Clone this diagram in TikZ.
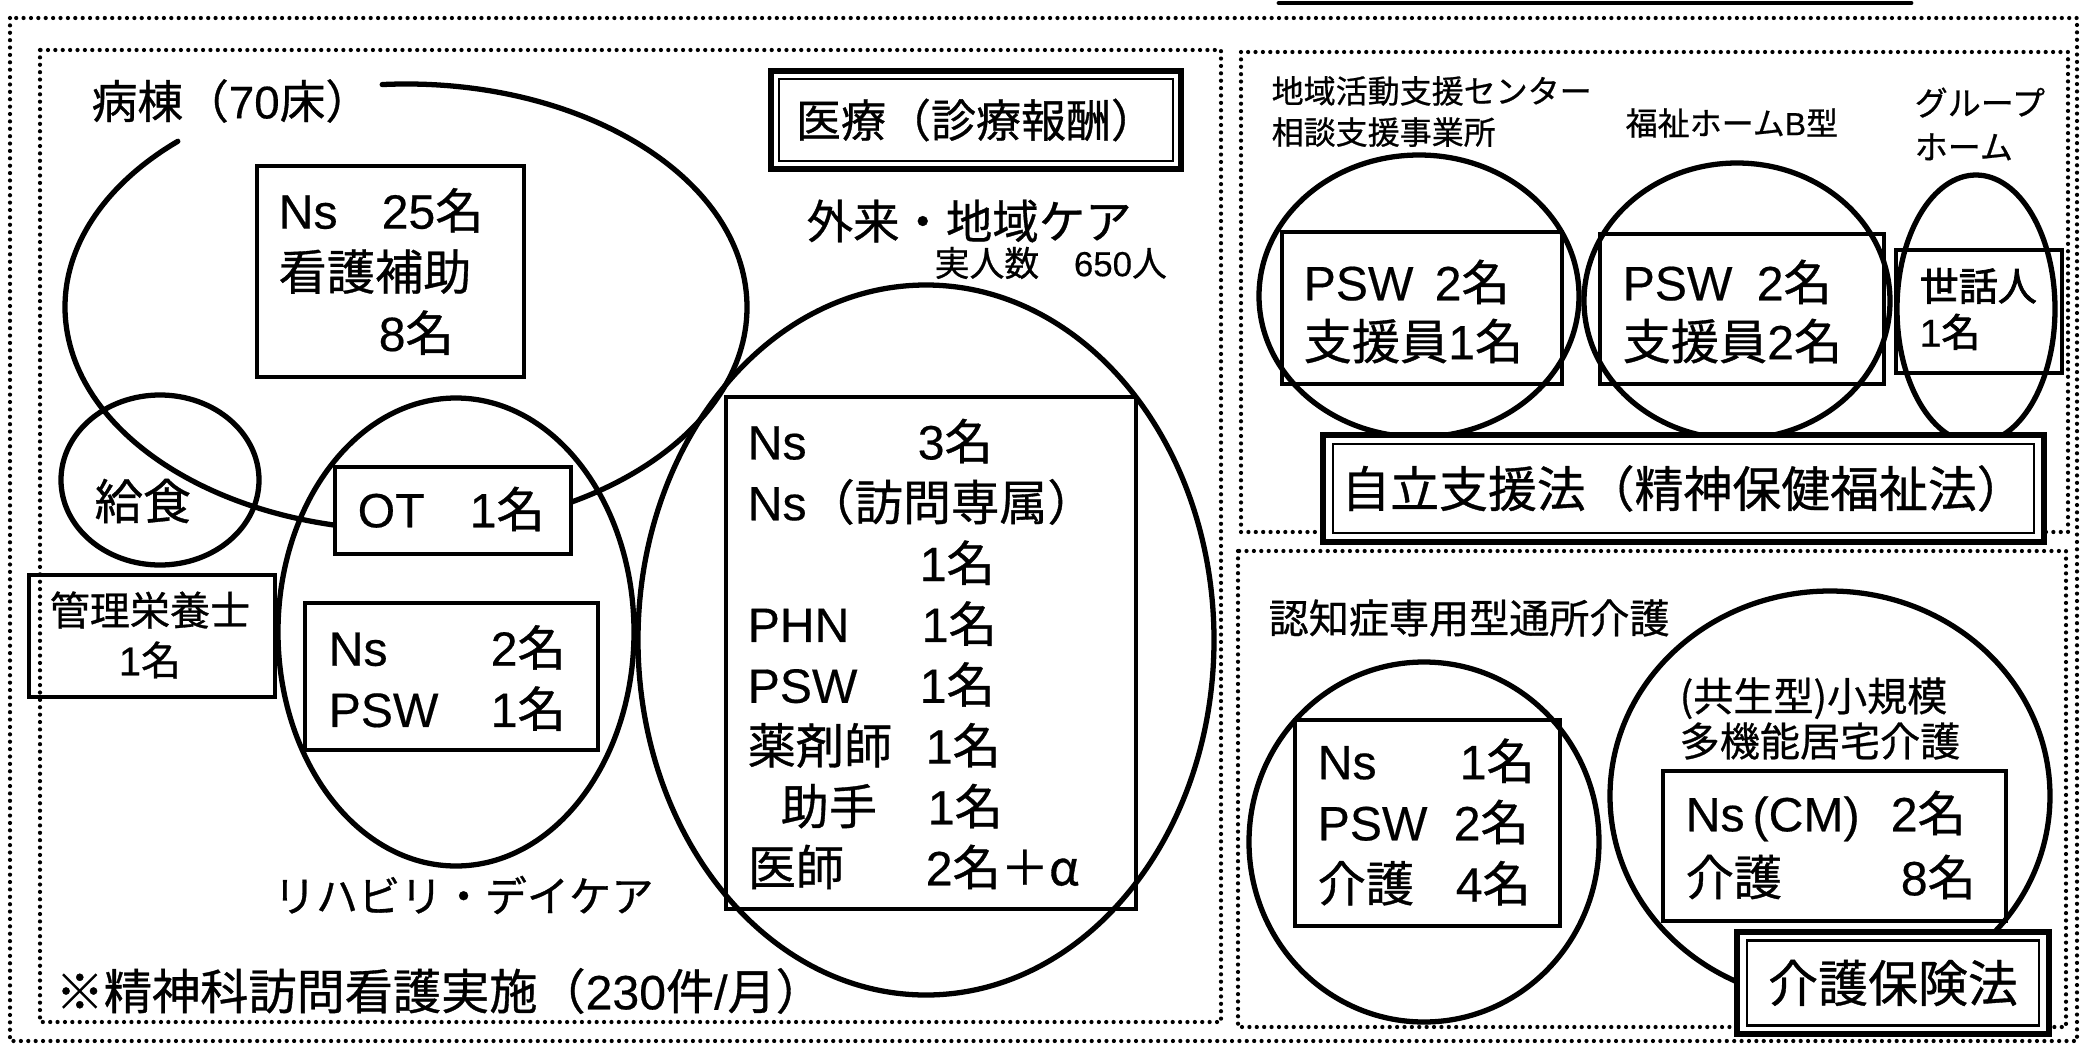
\documentclass[tikz,border=0pt]{standalone}
\usepackage{fontspec}
\setmainfont{Noto Sans CJK JP}[FakeBold=0.7]
\newfontfamily\lat{Liberation Sans}[FakeBold=0.4]
\newfontfamily\jpheavy{Noto Sans CJK JP}[FakeBold=1.8]
\usepackage{tikz}
\newcommand\la[1]{{\lat #1}}
\newcommand\lcol[2]{\makebox[#1][l]{#2}}
\newcommand\fs[2]{\fontsize{#1}{#2}\selectfont}

\begin{document}
\begin{tikzpicture}[x=0.01cm,y=-0.01cm,line cap=round,
  panel/.style={line width=1.2pt,dash pattern=on 0pt off 2.1pt},
  ring/.style={line width=1.5pt},
  staff/.style={line width=1pt},
  txt/.style={inner sep=0pt,anchor=west,align=left},
  stafffont/.style={font=\fs{13.7}{17.4}},
  lawframe/.style={draw,line width=1.8pt,fill=white,inner sep=0pt},
  lawbox/.style={draw,line width=0.6pt,inner sep=0pt}]
\useasboundingbox (0,0) rectangle (2084,1048);
\draw[line width=1.4pt] (1279,3) -- (1911,3);
\draw[panel] (10,18) rectangle (2077,1041);
\draw[panel] (40,50) rectangle (1221,1022);
\draw[panel] (1241,52) rectangle (2068,532);
\draw[panel] (1238,551) rectangle (2066,1027);

% left panel
\draw[ring] ([shift={(-94:341 and 223)}]406,307) arc[start angle=-94,end angle=228,x radius=341,y radius=223];
\draw[ring] (160,480) ellipse[x radius=99,y radius=85];
\draw[ring] (456,632) ellipse[x radius=178,y radius=234];
\draw[ring] (926,640) ellipse[x radius=288,y radius=355];
\draw[staff] (257,166) rectangle (524,377);
\draw[staff] (29,575) rectangle (275,697);
\draw[staff,fill=white] (335,467) rectangle (571,554);
\draw[staff] (305,603) rectangle (598,750);
\draw[staff] (726,397) rectangle (1136,909);
\node[lawframe,minimum width=4.10cm,minimum height=0.98cm] (iryoF) at (976,120) {};
\node[lawbox,minimum width=3.94cm,minimum height=0.82cm,font=\fs{12.8}{14}] (iryo) at (iryoF.center) {医療（診療報酬）};
\node[txt,font=\fs{13}{15}] (wardlbl) at (91,101) {病棟（\la{70}床）};
\node[txt,stafffont] (wardstaff) at (278,271.5) {\lcol{1.03cm}{\la{Ns}}\la{25}名\\看護補助\\\lcol{1.0cm}{}\la{8}名};
\node[txt,stafffont] (meal) at (94,501) {給食};
\node[inner sep=0pt,align=center,font=\fs{11.4}{14.2}] (diet) at (150,635) {管理栄養士\\\la{1}名};
\node[txt,stafffont] (ot) at (357,509) {\lcol{1.12cm}{\la{OT}}\la{1}名};
\node[txt,stafffont] (rehabstaff) at (328,678) {\lcol{1.62cm}{\la{Ns}}\la{2}名\\\lcol{1.62cm}{\la{PSW}}\la{1}名};
\node[txt,font=\fs{12}{14}] (rehab) at (273,895) {リハビリ・デイケア};
\node[txt,stafffont] (visit) at (55,991) {※精神科訪問看護実施（\la{230}件\la{/}月）};
\node[txt,font=\fs{13.2}{15}] (opd) at (806,221) {外来・地域ケア};
\node[txt,font=\fs{9.9}{12}] (opdnum) at (934,263) {実人数\quad\la{650}人};
\node[txt,font=\fs{13.7}{17.3}] (opdstaff) at (747,654) {\lcol{1.7cm}{\la{Ns}}\la{3}名\\\la{Ns}（訪問専属）\\\lcol{1.72cm}{}\la{1}名\\\lcol{1.74cm}{\la{PHN}}\la{1}名\\\lcol{1.72cm}{\la{PSW}}\la{1}名\\\lcol{1.78cm}{薬剤師}\la{1}名\\\lcol{1.8cm}{\hspace{0.33cm}助手}\la{1}名\\\lcol{1.78cm}{医師}\la{2}名＋α};

% right top panel
\draw[ring] (1419,296) ellipse[x radius=160,y radius=141];
\draw[ring] (1737,301) ellipse[x radius=153,y radius=138];
\draw[ring] (1976,309) ellipse[x radius=79,y radius=134];
\draw[staff] (1282,232) rectangle (1562,384);
\draw[staff] (1600,234) rectangle (1884,384);
\draw[staff] (1896,250) rectangle (2062,373);
\node[txt,font=\fs{9.1}{11.7}] (supportlbl) at (1271,111.5) {地域活動支援センター\\相談支援事業所};
\node[txt,font=\fs{9.1}{11}] (homelbl) at (1625,123) {福祉ホーム\la{B}型};
\node[txt,font=\fs{9.4}{12.5}] (grouplbl) at (1914,124) {グループ\\ホーム};
\node[txt,font=\fs{13.7}{16.8}] (supportstaff) at (1303,311.5) {\lcol{1.31cm}{\la{PSW}}\la{2}名\\支援員\la{1}名};
\node[txt,font=\fs{13.7}{16.8}] (homestaff) at (1622,311.5) {\lcol{1.34cm}{\la{PSW}}\la{2}名\\支援員\la{2}名};
\node[txt,font=\jpheavy\fs{11.1}{13.1}] (groupstaff) at (1919,309) {世話人\\\la{1}名};
\node[lawframe,minimum width=7.21cm,minimum height=1.07cm] (jiritsuF) at (1683.5,488.5) {};
\node[lawbox,minimum width=7.01cm,minimum height=0.89cm,font=\fs{13.9}{15}] (jiritsu) at (jiritsuF.center) {自立支援法（精神保健福祉法）};

% right bottom panel
\draw[ring] (1424,842) ellipse[x radius=175,y radius=180];
\draw[ring] (1830,796) ellipse[x radius=220,y radius=205];
\draw[staff] (1295,720) rectangle (1560,926);
\draw[staff] (1663,771) rectangle (2006,921);
\node[txt,font=\fs{11.4}{14}] (daylbl) at (1268,618) {認知症専用型通所介護};
\node[txt,stafffont] (daystaff) at (1317,822) {\lcol{1.42cm}{\la{Ns}}\la{1}名\\\lcol{1.36cm}{\la{PSW}}\la{2}名\\\lcol{1.38cm}{介護}\la{4}名};
\node[txt,font=\fs{11.4}{11.7}] (multilbl) at (1679,718.5) {(共生型)小規模\\多機能居宅介護};
\node[txt,font=\fs{13.7}{18.2}] (multistaff) at (1685,845) {\lcol{2.05cm}{\la{Ns\,(CM)}}\la{2}名\\\lcol{2.15cm}{介護}\la{8}名};
\node[lawframe,minimum width=3.12cm,minimum height=1.02cm] (kaigoF) at (1893,983) {};
\node[lawbox,minimum width=2.92cm,minimum height=0.85cm,font=\fs{14.2}{16}] (kaigo) at (kaigoF.center) {介護保険法};
\end{tikzpicture}
\end{document}
